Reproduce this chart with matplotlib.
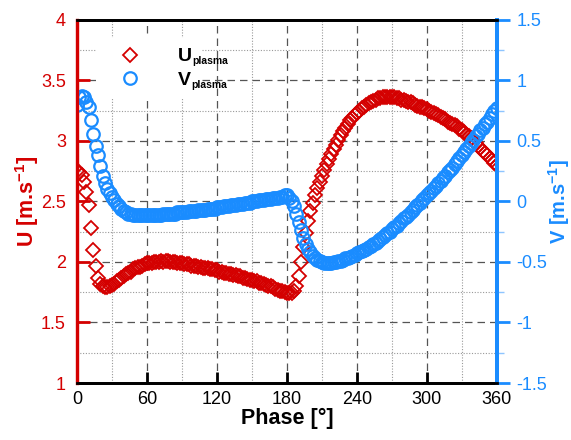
import matplotlib
matplotlib.use('Agg')
import matplotlib.pyplot as plt
from matplotlib.ticker import MultipleLocator, FuncFormatter

plt.rcParams['font.family'] = 'Liberation Sans'
plt.rcParams['axes.unicode_minus'] = False
plt.rcParams['mathtext.fontset'] = 'custom'
plt.rcParams['mathtext.rm'] = 'Liberation Sans'
plt.rcParams['mathtext.bf'] = 'Liberation Sans:bold'

# DATA (phase every 2 degrees)
phase = list(range(0, 361, 2))

u_plasma = [2.75, 2.74, 2.72, 2.66, 2.58, 2.47, 2.28, 2.10, 1.97, 1.87,
            1.82, 1.80, 1.79, 1.79, 1.80, 1.81, 1.82, 1.84, 1.85, 1.87,
            1.88, 1.90, 1.91, 1.92, 1.94, 1.95, 1.96, 1.96, 1.97, 1.98,
            1.99, 1.99, 1.99, 2.00, 2.00, 2.00, 2.01, 2.00, 2.01, 2.01,
            2.00, 2.00, 2.00, 1.99, 1.99, 1.99, 1.98, 1.98, 1.98, 1.97,
            1.97, 1.97, 1.96, 1.96, 1.95, 1.95, 1.95, 1.94, 1.94, 1.93,
            1.93, 1.92, 1.92, 1.91, 1.91, 1.90, 1.90, 1.89, 1.89, 1.88,
            1.88, 1.87, 1.87, 1.86, 1.85, 1.85, 1.84, 1.84, 1.83, 1.83,
            1.82, 1.81, 1.80, 1.80, 1.79, 1.78, 1.77, 1.76, 1.76, 1.75,
            1.74, 1.74, 1.74, 1.76, 1.80, 1.88, 2.00, 2.12, 2.24, 2.34,
            2.42, 2.49, 2.55, 2.61, 2.66, 2.71, 2.76, 2.81, 2.85, 2.89,
            2.93, 2.97, 3.01, 3.05, 3.08, 3.11, 3.14, 3.17, 3.19, 3.21,
            3.23, 3.25, 3.27, 3.28, 3.30, 3.31, 3.32, 3.33, 3.34, 3.35,
            3.35, 3.36, 3.36, 3.36, 3.36, 3.36, 3.36, 3.35, 3.35, 3.34,
            3.34, 3.33, 3.32, 3.32, 3.31, 3.30, 3.29, 3.28, 3.28, 3.27,
            3.26, 3.25, 3.24, 3.23, 3.22, 3.21, 3.20, 3.19, 3.18, 3.16,
            3.15, 3.14, 3.13, 3.12, 3.10, 3.09, 3.07, 3.05, 3.04, 3.02,
            3.00, 2.98, 2.96, 2.94, 2.92, 2.90, 2.88, 2.86, 2.84, 2.82,
            2.80]

v_plasma = [0.80, 0.86, 0.87, 0.86, 0.82, 0.78, 0.67, 0.56, 0.46, 0.38,
            0.29, 0.21, 0.15, 0.10, 0.07, 0.04, 0.01, -0.02, -0.04, -0.06,
            -0.08, -0.09, -0.10, -0.10, -0.11, -0.11, -0.11, -0.11, -0.11, -0.11,
            -0.11, -0.11, -0.11, -0.11, -0.11, -0.11, -0.11, -0.10, -0.10, -0.10,
            -0.10, -0.10, -0.10, -0.09, -0.09, -0.09, -0.09, -0.09, -0.08, -0.08,
            -0.08, -0.08, -0.07, -0.07, -0.07, -0.07, -0.06, -0.06, -0.06, -0.06,
            -0.05, -0.05, -0.05, -0.04, -0.04, -0.04, -0.03, -0.03, -0.03, -0.02,
            -0.02, -0.02, -0.01, -0.01, -0.01, 0.00, 0.00, 0.00, 0.01, 0.01,
            0.01, 0.02, 0.02, 0.02, 0.03, 0.03, 0.03, 0.04, 0.04, 0.05,
            0.05, 0.03, 0.00, -0.04, -0.10, -0.17, -0.24, -0.30, -0.35, -0.39,
            -0.42, -0.45, -0.47, -0.48, -0.49, -0.50, -0.51, -0.51, -0.51, -0.51,
            -0.50, -0.50, -0.49, -0.49, -0.48, -0.47, -0.47, -0.46, -0.45, -0.44,
            -0.43, -0.42, -0.41, -0.40, -0.39, -0.38, -0.37, -0.35, -0.34, -0.33,
            -0.31, -0.29, -0.28, -0.26, -0.25, -0.23, -0.21, -0.20, -0.18, -0.16,
            -0.14, -0.13, -0.11, -0.09, -0.07, -0.05, -0.03, -0.01, 0.01, 0.03,
            0.05, 0.07, 0.09, 0.11, 0.13, 0.15, 0.17, 0.19, 0.21, 0.24,
            0.26, 0.28, 0.31, 0.33, 0.36, 0.38, 0.41, 0.43, 0.46, 0.48,
            0.51, 0.54, 0.56, 0.59, 0.61, 0.64, 0.66, 0.69, 0.72, 0.75,
            0.77]

red = '#d40000'
blue = '#1a8cff'

fig = plt.figure(figsize=(5.71, 4.4), dpi=100)
ax1 = fig.add_axes([0.135, 0.1295, 0.735, 0.8255])
ax2 = ax1.twinx()

h1, = ax1.plot(phase, u_plasma, 'D', mfc='none', mec=red, ms=7.5, mew=1.3)
h2, = ax2.plot(phase, v_plasma, 'o', mfc='none', mec=blue, ms=9, mew=1.6)

ax1.set_xlim(0, 360)
ax1.set_ylim(1, 4)
ax2.set_ylim(-1.5, 1.5)

ax1.xaxis.set_major_locator(MultipleLocator(60))
ax1.xaxis.set_minor_locator(MultipleLocator(30))
ax1.yaxis.set_major_locator(MultipleLocator(0.5))
ax1.yaxis.set_minor_locator(MultipleLocator(0.25))
ax2.yaxis.set_major_locator(MultipleLocator(0.5))
ax2.yaxis.set_minor_locator(MultipleLocator(0.25))
fmt = FuncFormatter(lambda v, p: '%g' % v)
ax1.yaxis.set_major_formatter(fmt)
ax2.yaxis.set_major_formatter(fmt)

ax1.grid(which='major', ls=(0, (6, 4)), color='#555555', lw=0.9)
ax1.grid(which='minor', ls=(0, (1, 1.5)), color='#999999', lw=0.8)
ax1.set_axisbelow(True)

ax1.tick_params(axis='x', which='major', direction='in', length=8, width=2,
                labelsize=13, pad=6)
ax1.tick_params(axis='x', which='minor', length=0)
ax1.tick_params(axis='y', which='major', direction='in', length=9, width=2,
                colors=red, labelsize=13, pad=8)
ax1.tick_params(axis='y', which='minor', length=0)
ax2.tick_params(axis='y', which='major', direction='out', length=9, width=2,
                colors=blue, labelsize=13, pad=5)
ax2.tick_params(axis='y', which='minor', direction='out', length=5, width=1,
                color='#8ec5ff')

for ax in (ax1, ax2):
    ax.spines['left'].set_color(red)
    ax.spines['left'].set_linewidth(2.3)
    ax.spines['right'].set_color(blue)
    ax.spines['right'].set_linewidth(2.8)
    ax.spines['top'].set_linewidth(2)
    ax.spines['bottom'].set_linewidth(2)

ax1.set_xlabel('Phase [°]', fontsize=15.5, fontweight='bold', labelpad=0)
ax1.set_ylabel(r'U [m.s$^{\mathbf{-1}}$]', fontsize=15.5, fontweight='bold',
               color=red, labelpad=0)
ax2.set_ylabel(r'V [m.s$^{\mathbf{-1}}$]', fontsize=14.5, fontweight='bold',
               color=blue, labelpad=-1)

leg = ax2.legend([h1, h2], ['U', 'V'], loc='upper left',
                 bbox_to_anchor=(96 / 571, 1 - 38 / 440),
                 bbox_transform=fig.transFigure, borderaxespad=0,
                 frameon=True, facecolor='white', edgecolor='none',
                 framealpha=1, handlelength=2.5, handletextpad=1.2,
                 labelspacing=0.3, borderpad=0.5,
                 prop={'size': 14, 'weight': 'bold'})

# subscripts for legend labels
fig.canvas.draw()
W, H = fig.bbox.width, fig.bbox.height
for t in leg.get_texts():
    bb = t.get_window_extent()
    fig.text((bb.x1 + 1) / W, (bb.y0 - 1) / H, 'plasma', fontsize=7.5,
             fontweight='bold', va='bottom', ha='left')

fig.savefig('out.png', dpi=100)
